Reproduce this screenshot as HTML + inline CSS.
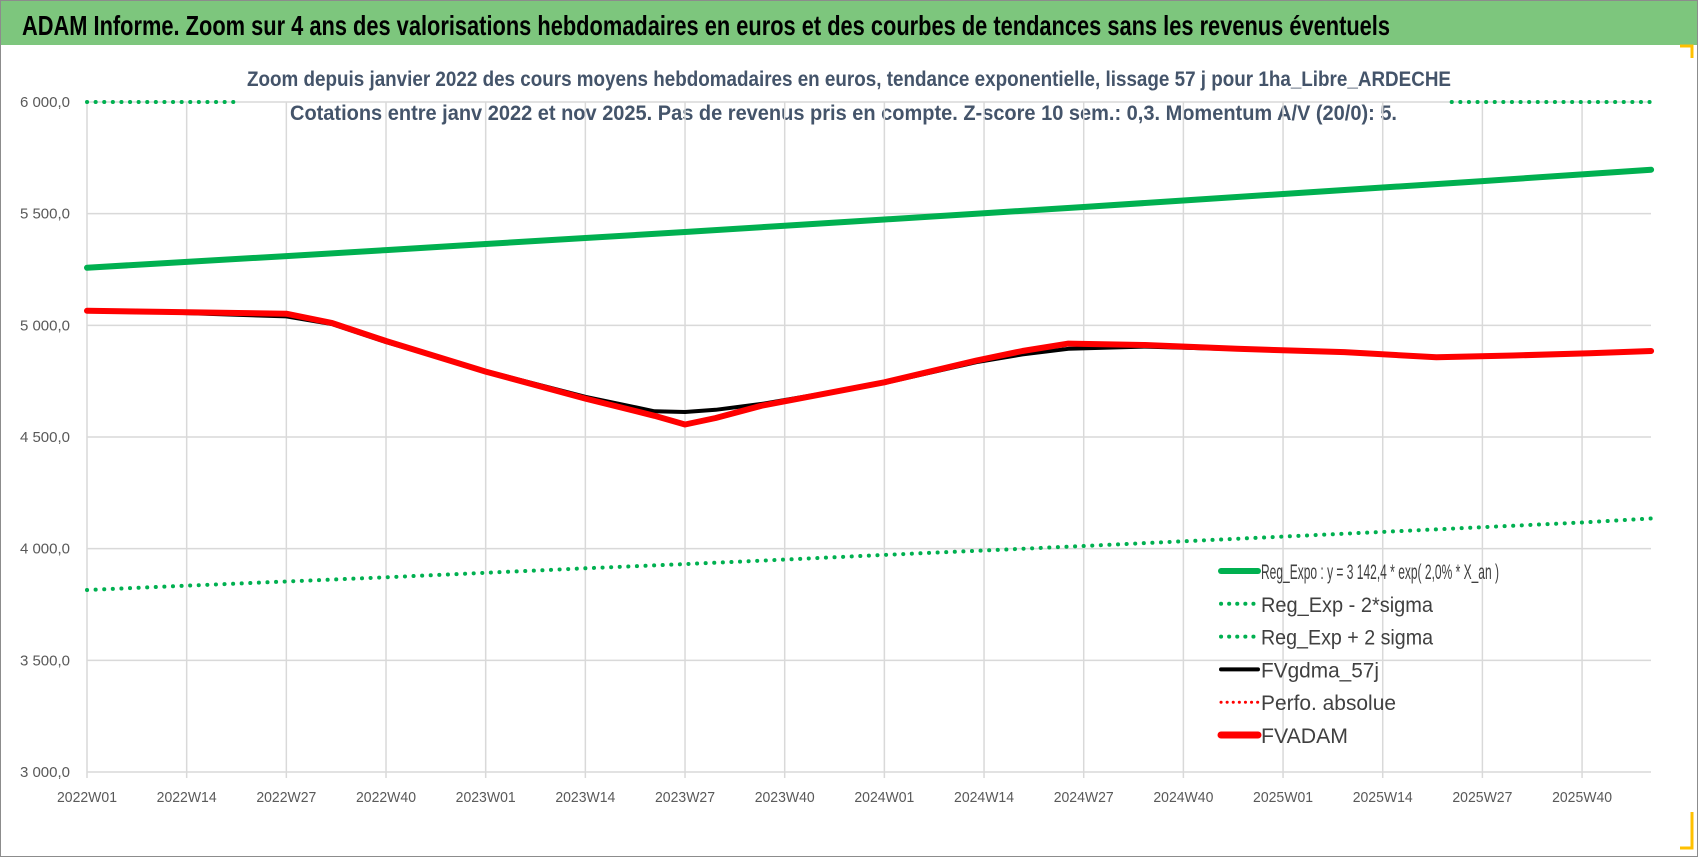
<!DOCTYPE html>
<html><head><meta charset="utf-8"><style>
html,body{margin:0;padding:0;background:#fff}
body{width:1698px;height:857px;overflow:hidden;position:relative;font-family:"Liberation Sans",sans-serif}
#frame{position:absolute;left:0;top:0;width:1696px;height:855px;border:1px solid #8c8c8c}
#titlebar{position:absolute;left:1px;top:1px;width:1696px;height:44px;background:#7dc67d}
svg{position:absolute;left:0;top:0}
</style></head><body>
<div id="frame"></div>
<div id="titlebar"></div>
<svg id="chart" width="1698" height="857">
<text x="22" y="35" font-size="28" font-weight="bold" fill="#000" textLength="1368" lengthAdjust="spacingAndGlyphs">ADAM Informe. Zoom sur 4 ans des valorisations hebdomadaires en euros et des courbes de tendances sans les revenus éventuels</text>
</svg>
<script>
const tickLabels=["2022W01","2022W14","2022W27","2022W40","2023W01","2023W14","2023W27","2023W40","2024W01","2024W14","2024W27","2024W40","2025W01","2025W14","2025W27","2025W40"];
const yTicks=[3000,3500,4000,4500,5000,5500,6000];
const regWeeks=[0,13,26,39,52,65,78,91,104,117,130,143,156,169,182,195,204];
const regExpo=[5258,5284,5310,5337,5364,5391,5418,5446,5474,5502,5530,5559,5588,5617,5646,5676,5697];
const regLow=[3815,3834,3853,3872,3892,3912,3931,3951,3972,3992,4012,4033,4054,4075,4096,4117,4135];
const upWeeksA=[0,20];const upValsA=[6000,6000];
const upWeeksB=[178,204];const upValsB=[6000,6000];
const redWeeks=[0,10,26,32,39,52,65,74,78,82,88,104,116,122,128,138,150,164,176,186,196,204];
const redVals=[5065,5060,5052,5010,4930,4793,4672,4595,4556,4585,4640,4745,4842,4885,4918,4912,4895,4880,4857,4865,4875,4885];
const blkWeeks=[0,10,26,32,39,52,65,74,78,82,88,104,116,122,128,138,150,164,176,186,196,204];
const blkVals=[5065,5058,5040,5005,4925,4795,4680,4615,4612,4622,4648,4742,4835,4870,4895,4905,4893,4878,4858,4864,4874,4884];
const legendLabels=["Reg_Expo : y = 3 142,4 * exp( 2,0% *  X_an )","Reg_Exp - 2*sigma","Reg_Exp + 2 sigma","FVgdma_57j","Perfo. absolue","FVADAM"];
const legendWidths=[238,172,172,118,135,87];

const X0=87,WK=7.667,Y6000=102,Y3000=772,PR=1651;
const xs=w=>X0+w*WK;
const ys=v=>Y3000-(v-3000)/3000*(Y3000-Y6000);
const svg=document.getElementById('chart');
const NS='http://www.w3.org/2000/svg';
function mk(t,a,p){const e=document.createElementNS(NS,t);for(const k in a)e.setAttribute(k,a[k]);(p||svg).appendChild(e);return e;}

let s1=mk('text',{x:247,y:86,'font-size':21,'font-weight':'bold',fill:'#44546a',textLength:1204,lengthAdjust:'spacingAndGlyphs'});


s1.textContent='Zoom depuis janvier 2022 des cours moyens hebdomadaires en euros, tendance exponentielle, lissage 57 j pour 1ha_Libre_ARDECHE';
let s2=mk('text',{x:290,y:120,'font-size':21,'font-weight':'bold',fill:'#44546a',textLength:1107,lengthAdjust:'spacingAndGlyphs'});


s2.textContent='Cotations entre janv 2022 et nov 2025. Pas de revenus pris en compte. Z-score 10 sem.: 0,3. Momentum A/V (20/0): 5.';

yTicks.forEach(v=>{
 const g=mk('line',{x1:X0,x2:PR,y1:ys(v),y2:ys(v),stroke:'#d9d9d9','stroke-width':1.5});
 
 
 const t=mk('text',{x:70,y:ys(v)+5,'text-anchor':'end','font-size':15,fill:'#595959'});
 
 
 t.textContent=v.toLocaleString('fr-FR').replace(/\u202f|\u00a0/g,' ')+',0';
});
tickLabels.forEach((l,i)=>{
 const x=xs(i*13);
 const g=mk('line',{x1:x,x2:x,y1:Y6000,y2:Y3000+6,stroke:'#d9d9d9','stroke-width':1.5});
 
 
 const t=mk('text',{x:x,y:Y3000+30,'text-anchor':'middle','font-size':15,fill:'#595959',textLength:60,lengthAdjust:'spacingAndGlyphs'});
 
 
 t.textContent=l;
});
function path(weeks,vals,attrs,name){
 const d=weeks.map((w,i)=>(i?'L':'M')+xs(w).toFixed(1)+','+ys(vals[i]).toFixed(1)).join(' ');
 const p=mk('path',Object.assign({d:d,fill:'none','stroke-linejoin':'round','stroke-linecap':'round'},attrs));
 
 
}
const dot={stroke:'#00b050','stroke-width':4,'stroke-dasharray':'0.1 8.5'};
path(regWeeks,regLow,dot,'reg-minus-2sigma-line');
path(upWeeksA,upValsA,dot,'reg-plus-2sigma-line-left');
path(upWeeksB,upValsB,dot,'reg-plus-2sigma-line-right');
path(regWeeks,regExpo,{stroke:'#00b050','stroke-width':6},'reg-expo-line');
path(blkWeeks,blkVals,{stroke:'#000','stroke-width':4},'fvgdma-57j-line');
path(redWeeks,redVals,{stroke:'#ff0000','stroke-width':6},'fvadam-line');

const styles=[
 {stroke:'#00b050','stroke-width':6},
 {stroke:'#00b050','stroke-width':4,'stroke-dasharray':'0.1 8','stroke-linecap':'round'},
 {stroke:'#00b050','stroke-width':4,'stroke-dasharray':'0.1 8','stroke-linecap':'round'},
 {stroke:'#000','stroke-width':4},
 {stroke:'#ff0000','stroke-width':3,'stroke-dasharray':'0.1 6','stroke-linecap':'round'},
 {stroke:'#ff0000','stroke-width':7}];
legendLabels.forEach((l,i)=>{
 const y=571+i*32.8;
 const g=mk('g',{});
 
 
 mk('line',Object.assign({x1:1221,x2:1258,y1:y,y2:y,'stroke-linecap':'round'},styles[i]),g);
 const t=mk('text',{x:1261,y:y+8,'font-size':21,fill:'#404040',textLength:legendWidths[i],lengthAdjust:'spacingAndGlyphs'},g);
 t.textContent=l;
});
mk('path',{d:'M1680,46 L1692,46 L1692,58',stroke:'#ffc000','stroke-width':3,fill:'none'});
mk('path',{d:'M1692,812 L1692,848 L1680,848',stroke:'#ffc000','stroke-width':3,fill:'none'});
</script>
</body></html>
